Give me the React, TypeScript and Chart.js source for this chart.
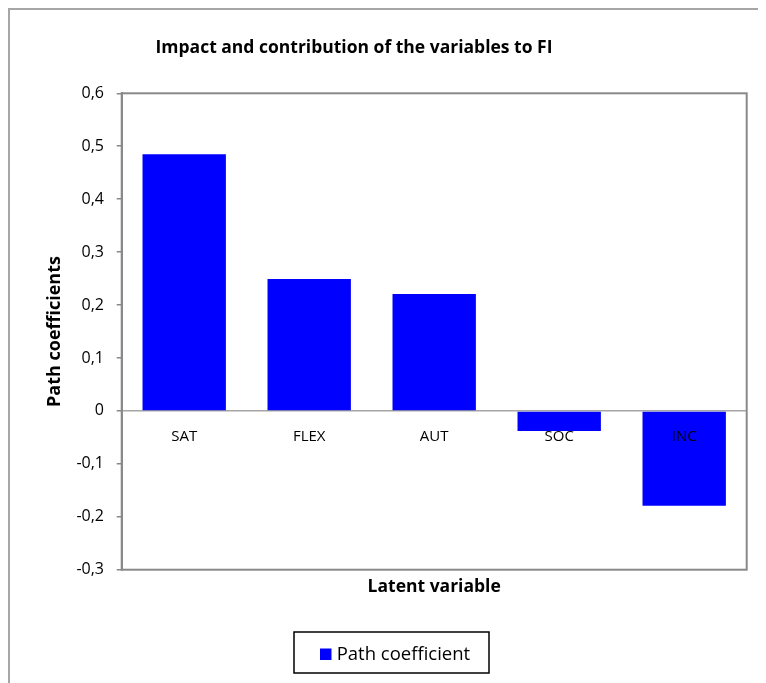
import { useEffect, useRef } from 'react';
import { Chart, registerables } from 'chart.js';

Chart.register(...registerables);

const chartTitle = 'Impact and contribution of the variables to FI';
const categories = ['SAT', 'FLEX', 'AUT', 'SOC', 'INC'];
const pathCoefficients = [0.485, 0.249, 0.221, -0.038, -0.179];
const seriesLabel = 'Path coefficient';
const yAxisTitle = 'Path coefficients';
const xAxisTitle = 'Latent variable';
const yMin = -0.3;
const yMax = 0.6;
const yStep = 0.1;

const FONT = '"Open Sans", Lato, sans-serif';
const BAR_BLUE = '#0000ff';
const FRAME_GREY = '#898989';
const ZERO_GREY = '#a6a6a6';

// Grey frame around the plot area
const plotFrame = {
  id: 'plotFrame',
  beforeDatasetsDraw(chart: any) {
    const { ctx, chartArea: a } = chart;
    ctx.save();
    ctx.strokeStyle = FRAME_GREY;
    ctx.lineWidth = 2;
    ctx.strokeRect(a.left, a.top, a.right - a.left, a.bottom - a.top);
    ctx.restore();
  },
};

// Bold chart heading, placed left of the canvas centre
const heading = {
  id: 'heading',
  afterDraw(chart: any) {
    const { ctx } = chart;
    ctx.save();
    ctx.font = `bold 17.5px ${FONT}`;
    ctx.fillStyle = '#000';
    ctx.textAlign = 'center';
    ctx.textBaseline = 'alphabetic';
    ctx.fillText(chartTitle, 344, 43.3);
    ctx.restore();
  },
};

// Boxed legend below the axis title
const boxedLegend = {
  id: 'boxedLegend',
  afterDraw(chart: any) {
    const { ctx } = chart;
    const ds = chart.data.datasets[0];
    ctx.save();
    ctx.strokeStyle = '#000';
    ctx.lineWidth = 1.5;
    ctx.strokeRect(284, 622, 195, 41);
    ctx.fillStyle = ds.backgroundColor;
    ctx.fillRect(310, 638.5, 11.5, 11.5);
    ctx.font = `18.5px ${FONT}`;
    ctx.fillStyle = '#000';
    ctx.textAlign = 'left';
    ctx.textBaseline = 'alphabetic';
    ctx.fillText(ds.label, 326.7, 650);
    ctx.restore();
  },
};

function formatTick(v: number | string) {
  const r = Math.round(Number(v) * 10) / 10;
  return r === 0 ? '0' : r.toFixed(1).replace('.', ',');
}

export default function App() {
  const canvasRef = useRef<HTMLCanvasElement | null>(null);

  useEffect(() => {
    document.body.style.overflow = 'hidden';
    const canvas = canvasRef.current;
    if (!canvas) return;
    const chart = new Chart(canvas, {
      type: 'bar',
      data: {
        labels: categories,
        datasets: [
          {
            label: seriesLabel,
            data: pathCoefficients,
            backgroundColor: BAR_BLUE,
            borderWidth: 0,
            barPercentage: 0.667,
            categoryPercentage: 1,
            xAxisID: 'x',
            yAxisID: 'y',
          },
        ],
      },
      options: {
        animation: false,
        responsive: false,
        layout: { padding: { top: 83.3, right: 19.3, bottom: 85.3, left: 0 } },
        plugins: {
          legend: { display: false },
          title: { display: false },
          tooltip: { enabled: false },
        },
        scales: {
          x: {
            type: 'category',
            position: { y: 0 },
            grid: { display: false },
            border: { display: true, color: ZERO_GREY, width: 1.5 },
            ticks: {
              z: 1,
              color: '#000',
              padding: 9,
              font: { family: FONT, size: 15 },
              maxRotation: 0,
              autoSkip: false,
            },
          },
          x2: {
            type: 'category',
            position: 'bottom',
            labels: categories,
            grid: { display: false },
            border: { display: false },
            ticks: { display: false },
            title: {
              display: true,
              text: xAxisTitle,
              color: '#000',
              font: { family: FONT, size: 17.5, weight: 'bold' },
              padding: { top: 7, bottom: 0 },
            },
            afterFit(scale: any) {
              scale.height = 28;
            },
          },
          y: {
            type: 'linear',
            position: 'left',
            min: yMin,
            max: yMax,
            grid: {
              display: true,
              drawOnChartArea: false,
              drawTicks: true,
              tickLength: 5,
              color: FRAME_GREY,
              lineWidth: 1.5,
            },
            border: { display: true, color: FRAME_GREY, width: 2 },
            ticks: {
              stepSize: yStep,
              color: '#000',
              padding: 12.7,
              font: { family: FONT, size: 16 },
              callback: (v: any) => formatTick(v),
            },
            title: {
              display: true,
              text: yAxisTitle,
              color: '#000',
              font: { family: FONT, size: 18, weight: 'bold' },
              padding: { top: 34, bottom: 0 },
            },
            afterFit(scale: any) {
              scale.width = 111.7;
            },
          },
        },
      },
      plugins: [plotFrame, heading, boxedLegend],
    });
    return () => chart.destroy();
  }, []);

  return (
    <div
      style={{
        width: 758,
        height: 675,
        overflow: 'hidden',
        boxSizing: 'border-box',
        borderLeft: '2px solid #a6a6a6',
        borderTop: '2px solid #a6a6a6',
        background: '#fff',
      }}
    >
      <canvas ref={canvasRef} width={756} height={673} style={{ display: 'block' }} />
    </div>
  );
}
